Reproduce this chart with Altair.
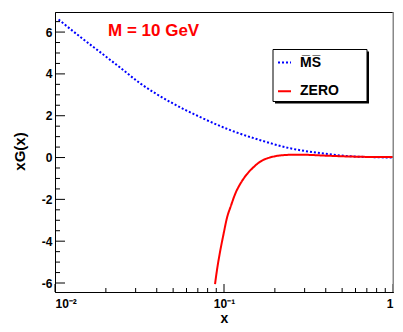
import altair as alt
import pandas as pd

# ---- data ----
ms_x = [0.0105, 0.0141, 0.0185, 0.0243, 0.0319, 0.048, 0.0725, 0.109,
        0.164, 0.247, 0.372, 0.56, 0.75, 1.00]
ms_y = [6.60, 5.77, 5.04, 4.30, 3.55, 2.66, 1.93, 1.31,
        0.83, 0.44, 0.21, 0.06, 0.02, 0.00]

zero_x = [0.0885, 0.091, 0.0951, 0.0995, 0.104, 0.11, 0.117, 0.125, 0.135, 0.15,
          0.165, 0.18, 0.20, 0.22, 0.25, 0.30, 0.40, 0.50, 0.70, 1.00]
zero_y = [-6.05, -5.35, -4.44, -3.64, -2.90, -2.30, -1.70, -1.25, -0.85, -0.45,
          -0.18, -0.04, 0.06, 0.11, 0.13, 0.13, 0.09, 0.06, 0.03, 0.02]

series_names = ["M\u0305S\u0305", "ZERO"]
series_colors = ["#0000ff", "#ff0000"]

y_major = [-6, -4, -2, 0, 2, 4, 6]
y_minor = [-5.5, -5, -4.5, -3.5, -3, -2.5, -1.5, -1, -0.5, 0.5, 1, 1.5,
           2.5, 3, 3.5, 4.5, 5, 5.5, 6.5]
x_major = [0.01, 0.1, 1.0]
x_minor = [0.02, 0.03, 0.04, 0.05, 0.06, 0.07, 0.08, 0.09,
           0.2, 0.3, 0.4, 0.5, 0.6, 0.7, 0.8, 0.9]
x_labels = ["10\u207b\u00b2", "10\u207b\u00b9", "1"]

x_domain = [0.01, 1.0]
y_domain = [-6.43, 6.96]

# ---- tables ----
curves = pd.DataFrame({
    "x": ms_x + zero_x,
    "y": ms_y + zero_y,
    "s": [series_names[0]] * len(ms_x) + [series_names[1]] * len(zero_x),
})
ymaj = pd.DataFrame({"y": y_major})
ymin = pd.DataFrame({"y": y_minor})
xmaj = pd.DataFrame({"x": x_major})
xmin = pd.DataFrame({"x": x_minor})
one = pd.DataFrame({"a": [0]})

W, H = 338, 280
FONT = "Liberation Sans"

xs = alt.Scale(type="log", domain=x_domain, nice=False)
ys = alt.Scale(domain=y_domain, nice=False, zero=False)

label_expr = (f"datum.value < 0.05 ? '{x_labels[0]}' : "
              f"datum.value < 0.5 ? '{x_labels[1]}' : '{x_labels[2]}'")

x_axis = alt.Axis(
    values=x_major, labelExpr=label_expr, ticks=False, grid=False,
    title="x", labelPadding=6, labelFontSize=12, titleFontSize=14,
    titleX=W / 2, titleY=30, titleBaseline="alphabetic", titleAlign="center")
y_axis = alt.Axis(
    values=y_major, labelExpr="'' + datum.value", ticks=False, grid=False,
    title="xG(x)", labelPadding=3, labelFontSize=12, titleFontSize=15,
    titleAngle=-90, titleX=-36, titleY=H / 2 - 1, titleBaseline="middle",
    titleAlign="center")

legend = alt.Legend(
    orient="none", legendX=222, legendY=43, title=None,
    symbolType="stroke", symbolSize=169, symbolStrokeWidth=2,
    labelFont=FONT, labelFontWeight="bold", labelFontSize=14,
    labelColor="black", labelOffset=8, rowPadding=13.7, padding=0,
)

lines = alt.Chart(curves).mark_line(strokeWidth=2, interpolate="monotone", clip=True).encode(
    x=alt.X("x:Q", scale=xs, axis=x_axis),
    y=alt.Y("y:Q", scale=ys, axis=y_axis),
    color=alt.Color("s:N", scale=alt.Scale(domain=series_names, range=series_colors), legend=legend),
    strokeDash=alt.StrokeDash("s:N", scale=alt.Scale(domain=series_names, range=[[2, 2], [1, 0]]), legend=legend),
    order=alt.Order("x:Q"),
)

tick_y_major = alt.Chart(ymaj).mark_rule(color="black", strokeWidth=1).encode(
    y=alt.Y("y:Q", scale=ys, axis=y_axis), x=alt.value(0), x2=alt.value(10))
tick_y_minor = alt.Chart(ymin).mark_rule(color="black", strokeWidth=1).encode(
    y=alt.Y("y:Q", scale=ys, axis=y_axis), x=alt.value(0), x2=alt.value(5))
tick_x_major = alt.Chart(xmaj).mark_rule(color="black", strokeWidth=1).encode(
    x=alt.X("x:Q", scale=xs, axis=x_axis), y=alt.value(H), y2=alt.value(H - 8))
tick_x_minor = alt.Chart(xmin).mark_rule(color="black", strokeWidth=1).encode(
    x=alt.X("x:Q", scale=xs, axis=x_axis), y=alt.value(H), y2=alt.value(H - 4))

right_border = alt.Chart(one).mark_rule(color="#888888", strokeWidth=2).encode(
    x=alt.value(W + 0.5), y=alt.value(0), y2=alt.value(H))

shadow = alt.Chart(one).mark_rect(fill="black").encode(
    x=alt.value(220), x2=alt.value(314), y=alt.value(39.5), y2=alt.value(91.5))
box = alt.Chart(one).mark_rect(fill="white", stroke="black", strokeWidth=1).encode(
    x=alt.value(218), x2=alt.value(312), y=alt.value(37.5), y2=alt.value(89.5))

label = alt.Chart(one).mark_text(
    text="M = 10 GeV", color="#ff0000", font=FONT, fontWeight="bold", fontSize=17,
    align="left", baseline="alphabetic").encode(x=alt.value(53), y=alt.value(24))

chart = alt.layer(
    shadow, box, lines, tick_y_major, tick_y_minor, tick_x_major, tick_x_minor,
    right_border, label,
).properties(
    width=W, height=H,
    autosize=alt.AutoSizeParams(type="none"),
    padding={"left": 47, "top": 4, "right": 1, "bottom": 32},
).configure_view(
    stroke="black", strokeWidth=1,
).configure_axis(
    domainColor="black", domainWidth=1,
    labelFont=FONT, labelFontWeight="bold", labelColor="black",
    titleFont=FONT, titleFontWeight="bold", titleColor="black",
)

chart.save("out.html", embed_options={"renderer": "svg", "actions": False})
